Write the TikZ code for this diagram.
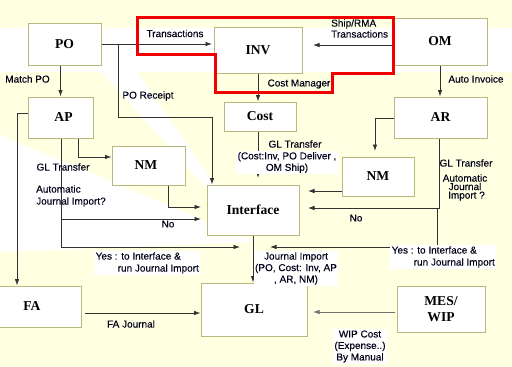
\documentclass[tikz,border=0pt]{standalone}
\usepackage{fontspec}
\setmainfont{Liberation Serif}
\setsansfont[FakeBold=0.2]{Liberation Sans}
\usetikzlibrary{arrows.meta}
\definecolor{cream}{RGB}{255,255,226}
\definecolor{boxline}{RGB}{185,185,125}
\definecolor{wire}{RGB}{50,50,50}
\definecolor{redline}{RGB}{240,0,0}
\begin{document}
\begin{tikzpicture}[x=1pt,y=-1pt,
  box/.style={draw=boxline, line width=1pt, fill=white, inner sep=0pt,
    font=\fontsize{13.6}{15}\selectfont\bfseries},
  arr/.style={draw=wire, line width=0.8pt, -{Latex[length=6.5pt,width=4.5pt]}},
  wireline/.style={draw=wire, line width=0.8pt},
  lbl/.style={font=\sffamily\fontsize{10}{12}\selectfont, inner sep=1pt, text=black!90!blue},
  wlbl/.style={lbl, fill=white, inner sep=1.5pt}]
% background
\fill[cream] (0,0) rectangle (512,367);
\useasboundingbox (0,0) rectangle (512,367);
\fill[white] (0,28) rectangle (512,72);
\fill[white] (255,242) -- (106,28) -- (62,28) -- cycle;
\fill[white] (255,242) -- (0,135) -- (0,252) -- cycle;
% boxes
\node[box, minimum width=73pt, minimum height=42pt] (PO) at (64.5,44) {PO};
\node[box, minimum width=88pt, minimum height=46pt] (INV) at (258,50) {\raisebox{-4pt}{INV}};
\node[box, minimum width=94pt, minimum height=47pt] (OM) at (440,41.5) {OM};
\node[box, minimum width=65pt, minimum height=41pt] (AP) at (60.5,117.5) {\hspace*{6pt}AP};
\node[box, minimum width=72pt, minimum height=29pt] (Cost) at (260,116.5) {Cost};
\node[box, minimum width=93pt, minimum height=41pt] (AR) at (440.5,117.5) {AR};
\node[box, minimum width=73pt, minimum height=39pt] (NML) at (148.5,165.5) {NM\hspace*{5pt}};
\node[box, minimum width=72pt, minimum height=39pt] (NMR) at (378,176.5) {NM};
\node[box, minimum width=92pt, minimum height=50pt] (Interface) at (253,210) {Interface};
\node[box, minimum width=84pt, minimum height=41pt] (FA) at (39,306.5) {FA\hspace*{14pt}};
\node[box, minimum width=106pt, minimum height=53pt] (GL) at (254,309.5) {GL};
\node[box, minimum width=88pt, minimum height=46pt, align=center,
  font=\fontsize{13.6}{16.5}\selectfont\bfseries] (MES) at (441,309) {MES/\\WIP};
% helper coordinates
\coordinate (prA) at (118,44);
\coordinate (prB) at (212,117);
\coordinate (omA) at (313,45);
\coordinate (costT) at (258,178);
\coordinate (apL) at (17,113);
\coordinate (apN) at (78,157);
\coordinate (apNo) at (61,219);
\coordinate (apYes) at (61,247);
\coordinate (glY) at (240,247);
\coordinate (ifA) at (201,210);
\coordinate (nmD) at (168,207);
\coordinate (faS) at (85,313);
\coordinate (arN) at (375,118);
\coordinate (arNt) at (375,151);
\coordinate (ifR) at (308,210);
\coordinate (arG) at (439,208);
\coordinate (arY) at (437,208);
\coordinate (arY2) at (437,247);
\coordinate (glYR) at (270,247);
\coordinate (nmr) at (342,191);
\coordinate (mes) at (395,312);
\coordinate (gle) at (313,312);
% connectors
\draw[arr] (PO.east) -- (PO.east -| prB);
\draw[arr] (prA) |- (prB) -- (prB |- Interface.north);
\draw[arr] (OM.west |- omA) -- (omA);
\draw[arr] (INV.south) -- (INV.south |- Cost.north);
\draw[arr] (Cost.south -| costT) -- (costT);
\draw[arr] (PO.south -| AP.north) -- (AP.north);
\draw[arr] (OM.south) -- (OM.south |- AR.north);
\draw[arr] (AP.west |- apL) -- (apL) -- (apL |- FA.north);
\draw[arr] (AP.south -| apN) -- (apN) -- (apN -| NML.west);
\draw[wireline] (AP.south -| apNo) -- (apYes);
\draw[arr] (apNo) -- (apNo -| ifA);
\draw[arr] (apYes) -- (glY);
\draw[arr] (NML.south -| nmD) -- (nmD) -- (nmD -| ifA);
\draw[arr] (Interface.south) -- (Interface.south |- GL.north);
\draw[arr] (faS) -- (faS -| GL.west);
\draw[arr] (AR.west |- arN) -- (arN) -- (arNt);
\draw[arr] (AR.south -| arG) -- (arG) -- (arG -| ifR);
\draw[arr] (arY) -- (arY2) -- (glYR);
\draw[arr] (nmr) -- (nmr -| ifR);
\draw[arr, draw=black!55] (mes) -- (gle);
% labels
\node[lbl] (lTrans) at (175,33.5) {Transactions};
\node[lbl, align=left, anchor=west, font=\sffamily\fontsize{10}{11}\selectfont] (lShip) at (330,28.5) {Ship/RMA\\Transactions};
\node[lbl] (lCM) at (299,84) {Cost Manager};
\node[lbl] (lPOR) at (148,96) {PO Receipt};
\node[lbl] (lMatch) at (27.5,79) {Match PO};
\node[lbl] (lAuto) at (476,79) {Auto Invoice};
\node[lbl] (lGLc) at (295,144) {GL Transfer};
\node[wlbl, align=center, font=\sffamily\fontsize{10}{11.5}\selectfont] (lCostInv) at (287,162.5) {(Cost:Inv, PO Deliver ,\\OM Ship)};
\node[lbl] (lGLap) at (63,167) {GL Transfer};
\node[lbl, align=left, anchor=west] (lAJI) at (35,196) {Automatic\\Journal Import?};
\node[lbl] (lNoL) at (168,224) {No};
\node[wlbl, align=left, anchor=west, font=\sffamily\fontsize{10}{12}\selectfont] (lYesL) at (94,263) {Yes : to Interface \&\\\hspace*{22pt}run Journal Import};
\node[lbl] (lGLar) at (466,163) {GL Transfer};
\node[lbl, align=center, font=\sffamily\fontsize{10}{8.5}\selectfont] (lAJIr) at (465,187.5) {Automatic\\Journal\\\hspace*{3pt}Import ?};
\node[lbl] (lNoR) at (356,218) {No};
\node[wlbl, align=left, anchor=west, font=\sffamily\fontsize{10}{12}\selectfont] (lYesR) at (390,257) {Yes : to Interface \&\\\hspace*{22pt}run Journal Import};
\node[wlbl, align=center, font=\sffamily\fontsize{10}{11.5}\selectfont] (lJI) at (296,268.5) {Journal Import\\(PO, Cost: Inv, AP\\, AR, NM)};
\node[lbl] (lFAJ) at (131,324) {FA Journal};
\node[wlbl, align=center, font=\sffamily\fontsize{10}{11.5}\selectfont] (lWIP) at (360,346.5) {WIP Cost\\(Expense..)\\By Manual};
% red outline
\draw[redline, line width=3pt, line join=miter] (137,17) -- (393,17) -- (393,73) -- (332,73) -- (332,92) -- (215,92) -- (215,54) -- (137,54) -- cycle;
\end{tikzpicture}
\end{document}
